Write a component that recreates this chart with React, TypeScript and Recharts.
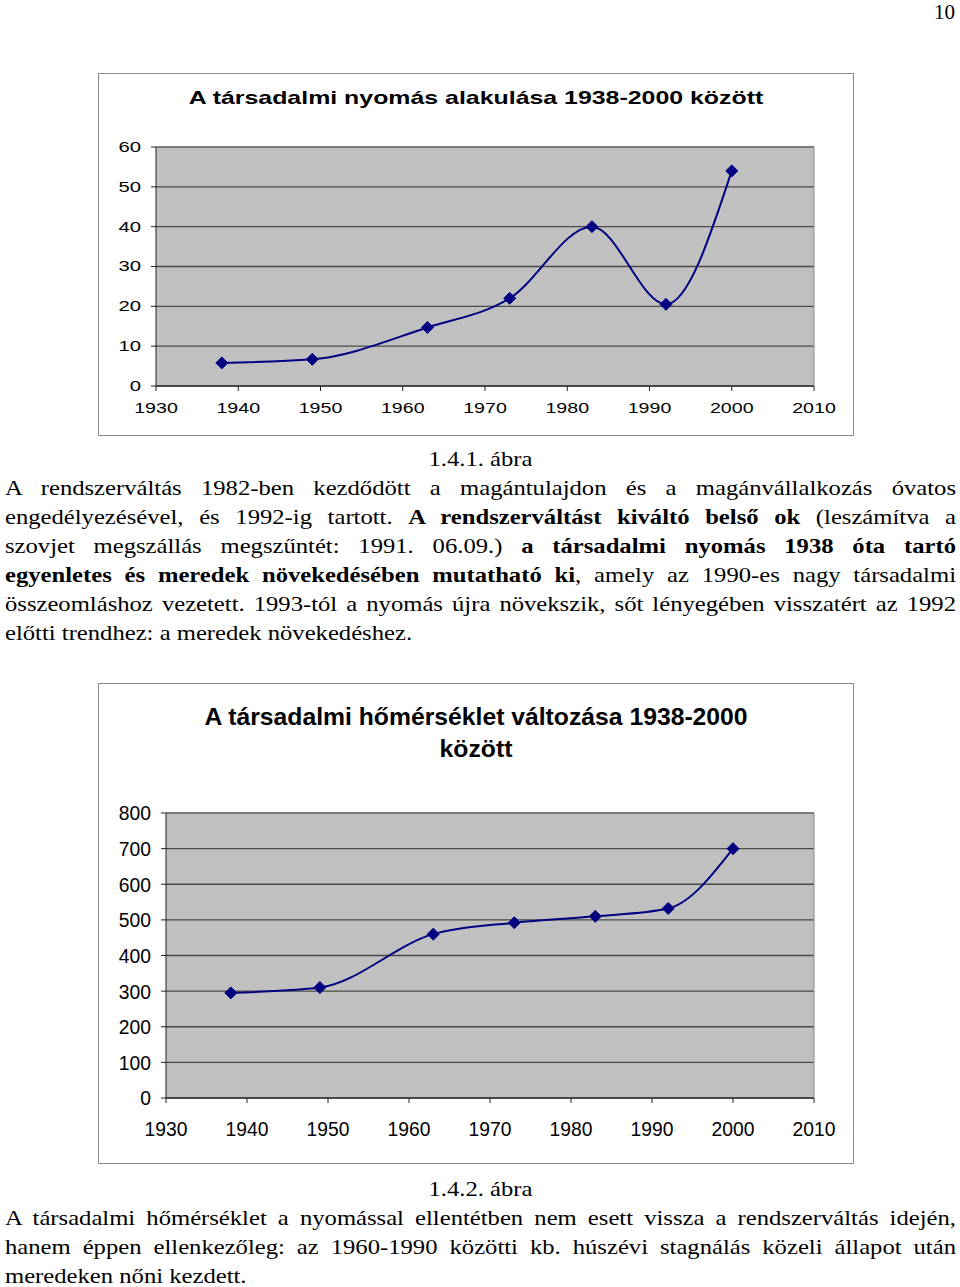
import React from "react";
import {
  LineChart,
  Line,
  XAxis,
  YAxis,
  CartesianGrid,
  ReferenceLine
} from "recharts";

const years = [1938, 1949, 1963, 1973, 1983, 1992, 2000];
const pressure = [5.8, 6.7, 14.7, 22, 40, 20.5, 54];
const temperature = [295, 310, 460, 492, 510, 532, 700];

const yearTicks = [1930, 1940, 1950, 1960, 1970, 1980, 1990, 2000, 2010];
const pressureTicks = [0, 10, 20, 30, 40, 50, 60];
const temperatureTicks = [0, 100, 200, 300, 400, 500, 600, 700, 800];

const pressureData = years.map((y, i) => ({ year: y, value: pressure[i] }));
const temperatureData = years.map((y, i) => ({ year: y, value: temperature[i] }));

const NAVY = "#000080";
const chartFont = "'Liberation Sans', Arial, sans-serif";
const bookFont = "'Liberation Serif', 'Times New Roman', serif";

const Diamond = (props: any) => {
  const { cx, cy } = props;
  if (cx == null || cy == null) return null;
  const r = 6;
  return (
    <polygon
      points={`${cx},${cy - r} ${cx + r},${cy} ${cx},${cy + r} ${cx - r},${cy}`}
      fill={NAVY}
      stroke={NAVY}
    />
  );
};

// the scanned charts are stretched, so tick text gets a horizontal scale
const ScaledTick = (props: any) => {
  const { x, y, payload, fs, sx, side } = props;
  const isX = side === "x";
  return (
    <g transform={`translate(${x},${y}) scale(${sx},1)`}>
      <text
        x={0}
        y={0}
        dy={isX ? "0.71em" : "0.355em"}
        textAnchor={isX ? "middle" : "end"}
        fontSize={fs}
        fontFamily={chartFont}
        fill="#000"
      >
        {payload.value}
      </text>
    </g>
  );
};

const boxStyle: React.CSSProperties = {
  position: "absolute",
  left: 98,
  width: 756,
  border: "1px solid #8a8a8a",
  boxSizing: "border-box",
  background: "#fff"
};

function PressureChart() {
  return (
    <div style={{ ...boxStyle, top: 73, height: 363 }}>
      <div
        style={{
          position: "absolute",
          top: 13,
          width: "100%",
          textAlign: "center",
          fontFamily: chartFont,
          fontWeight: "bold",
          fontSize: 19,
          transform: "scaleX(1.31)",
          transformOrigin: "center"
        }}
      >
        A társadalmi nyomás alakulása 1938-2000 között
      </div>
      <div style={{ position: "absolute", left: -1, top: -1 }}>
        <LineChart
          width={756}
          height={363}
          data={pressureData}
          margin={{ top: 74, right: 40, bottom: 20, left: 18 }}
        >
          <CartesianGrid
            vertical={false}
            fill="#c0c0c0"
            fillOpacity={1}
            stroke="#4a4a4a"
            strokeWidth={1.3}
          />
          <XAxis
            dataKey="year"
            type="number"
            domain={[1930, 2010]}
            ticks={yearTicks}
            interval={0}
            height={30}
            stroke="#222"
            tickSize={5}
            tickMargin={12}
            tick={<ScaledTick fs={14} sx={1.4} side="x" />}
          />
          <YAxis
            type="number"
            domain={[0, 60]}
            ticks={pressureTicks}
            interval={0}
            width={40}
            stroke="#222"
            tickSize={5}
            tickMargin={10}
            tick={<ScaledTick fs={14} sx={1.45} side="y" />}
          />
          <ReferenceLine x={2010} stroke="#8a8a8a" />
          <ReferenceLine y={60} stroke="#8a8a8a" />
          <Line
            dataKey="value"
            type="monotone"
            stroke={NAVY}
            strokeWidth={2}
            dot={<Diamond />}
            activeDot={false}
            isAnimationActive={false}
          />
        </LineChart>
      </div>
    </div>
  );
}

function TemperatureChart() {
  return (
    <div style={{ ...boxStyle, top: 683, height: 481 }}>
      <div
        style={{
          position: "absolute",
          top: 17,
          width: "100%",
          textAlign: "center",
          fontFamily: chartFont,
          fontWeight: "bold",
          fontSize: 24,
          lineHeight: "32px",
          transform: "scaleX(1.03)",
          transformOrigin: "center"
        }}
      >
        A társadalmi hőmérséklet változása 1938-2000
        <br />
        között
      </div>
      <div style={{ position: "absolute", left: -1, top: -1 }}>
        <LineChart
          width={756}
          height={481}
          data={temperatureData}
          margin={{ top: 130, right: 40, bottom: 30, left: 28 }}
        >
          <CartesianGrid
            vertical={false}
            fill="#c0c0c0"
            fillOpacity={1}
            stroke="#4a4a4a"
            strokeWidth={1.3}
          />
          <XAxis
            dataKey="year"
            type="number"
            domain={[1930, 2010]}
            ticks={yearTicks}
            interval={0}
            height={36}
            stroke="#222"
            tickSize={5}
            tickMargin={18}
            tick={<ScaledTick fs={21} sx={0.92} side="x" />}
          />
          <YAxis
            type="number"
            domain={[0, 800]}
            ticks={temperatureTicks}
            interval={0}
            width={40}
            stroke="#222"
            tickSize={5}
            tickMargin={10}
            tick={<ScaledTick fs={21} sx={0.92} side="y" />}
          />
          <ReferenceLine x={2010} stroke="#8a8a8a" />
          <ReferenceLine y={800} stroke="#8a8a8a" />
          <Line
            dataKey="value"
            type="monotone"
            stroke={NAVY}
            strokeWidth={2}
            dot={<Diamond />}
            activeDot={false}
            isAnimationActive={false}
          />
        </LineChart>
      </div>
    </div>
  );
}

const TEXT_SCALE = 1.12;

const lineStyle: React.CSSProperties = {
  height: 29,
  lineHeight: "29px",
  whiteSpace: "nowrap",
  textAlign: "justify",
  textAlignLast: "justify"
};

const lastLine: React.CSSProperties = {
  height: 29,
  lineHeight: "29px",
  whiteSpace: "nowrap",
  textAlign: "left"
};

function TextBlock({ top, children }: { top: number; children: React.ReactNode }) {
  return (
    <div
      style={{
        position: "absolute",
        left: 5,
        top,
        width: 951 / TEXT_SCALE,
        fontFamily: bookFont,
        fontSize: 22,
        color: "#000",
        transform: `scaleX(${TEXT_SCALE})`,
        transformOrigin: "left top"
      }}
    >
      {children}
    </div>
  );
}

export default function App() {
  return (
    <div
      style={{
        position: "absolute",
        left: 0,
        top: 0,
        width: 960,
        height: 1287,
        background: "#fff",
        overflow: "hidden"
      }}
    >
      <div
        style={{
          position: "absolute",
          right: 5,
          top: 0,
          fontFamily: bookFont,
          fontSize: 21,
          lineHeight: "24px"
        }}
      >
        10
      </div>

      <PressureChart />

      <TextBlock top={444}>
        <div style={{ ...lastLine, textAlign: "center" }}>1.4.1. ábra</div>
        <div style={lineStyle}>
          A rendszerváltás 1982-ben kezdődött a magántulajdon és a magánvállalkozás óvatos
        </div>
        <div style={lineStyle}>
          engedélyezésével, és 1992-ig tartott. <b>A rendszerváltást kiváltó belső ok</b> (leszámítva a
        </div>
        <div style={lineStyle}>
          szovjet megszállás megszűntét: 1991. 06.09.) <b>a társadalmi nyomás 1938 óta tartó</b>
        </div>
        <div style={lineStyle}>
          <b>egyenletes és meredek növekedésében mutatható ki</b>, amely az 1990-es nagy társadalmi
        </div>
        <div style={lineStyle}>
          összeomláshoz vezetett. 1993-tól a nyomás újra növekszik, sőt lényegében visszatért az 1992
        </div>
        <div style={lastLine}>előtti trendhez: a meredek növekedéshez.</div>
      </TextBlock>

      <TemperatureChart />

      <TextBlock top={1174}>
        <div style={{ ...lastLine, textAlign: "center" }}>1.4.2. ábra</div>
        <div style={lineStyle}>
          A társadalmi hőmérséklet a nyomással ellentétben nem esett vissza a rendszerváltás idején,
        </div>
        <div style={lineStyle}>
          hanem éppen ellenkezőleg: az 1960-1990 közötti kb. húszévi stagnálás közeli állapot után
        </div>
        <div style={lastLine}>meredeken nőni kezdett.</div>
      </TextBlock>
    </div>
  );
}
